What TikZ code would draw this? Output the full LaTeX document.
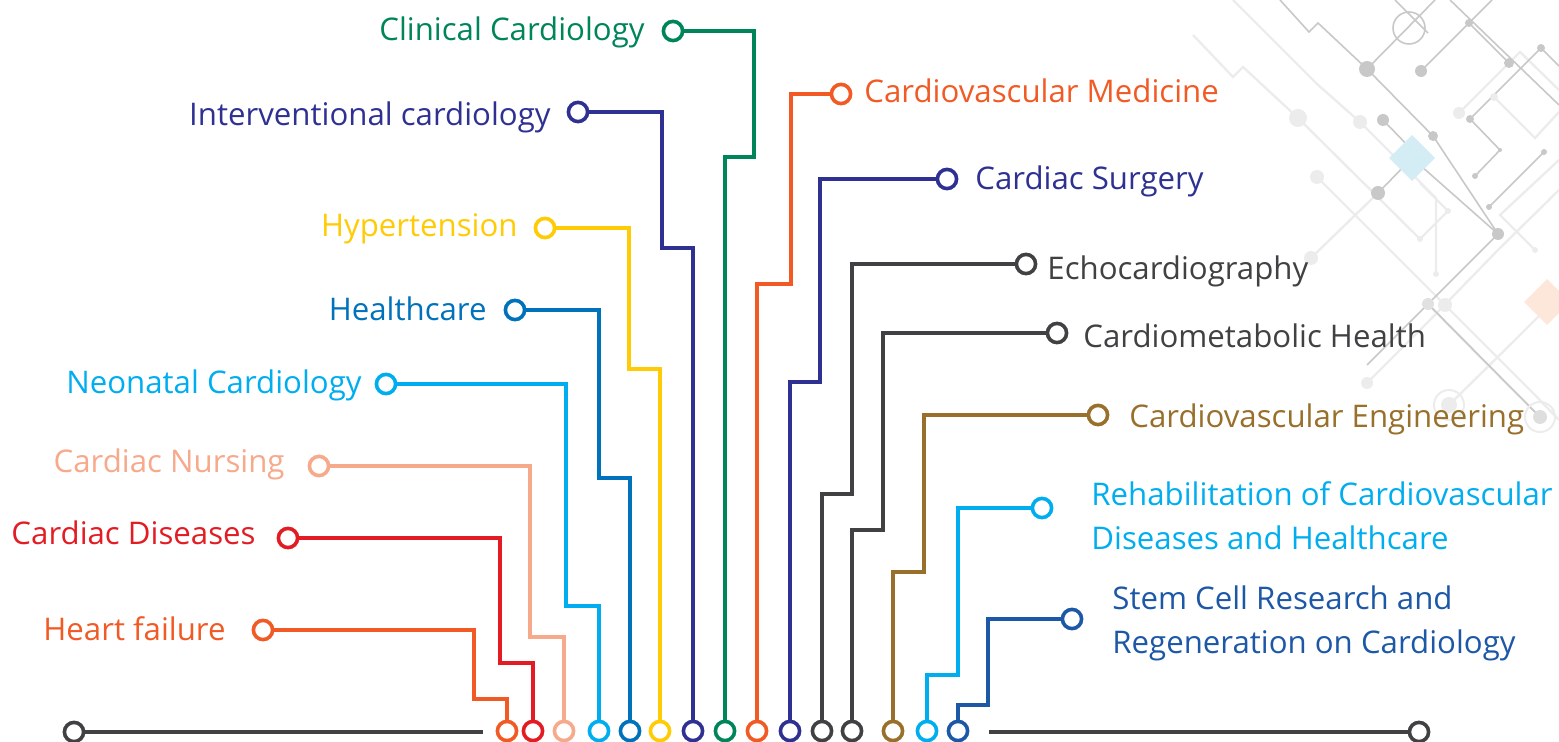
\documentclass[tikz,border=0pt]{standalone}
\usepackage{fontspec}
\setmainfont{Open Sans}
\usetikzlibrary{calc}
\definecolor{cOrange}{HTML}{F15A24}
\definecolor{cRed}{HTML}{E31B23}
\definecolor{cSalmon}{HTML}{F7A98B}
\definecolor{cCyan}{HTML}{00AEEF}
\definecolor{cBlue}{HTML}{0072BC}
\definecolor{cYellow}{HTML}{FFCB05}
\definecolor{cIndigo}{HTML}{2E3192}
\definecolor{cGreen}{HTML}{00855A}
\definecolor{cGray}{HTML}{414042}
\definecolor{cBrown}{HTML}{98702B}
\definecolor{cStem}{HTML}{1D58A7}
\definecolor{bgMid}{HTML}{C8C8C8}
\definecolor{bgLight}{HTML}{ECECEC}
\definecolor{bgBlue}{HTML}{D4EDF5}
\definecolor{bgPeach}{HTML}{FCE7DA}
\tikzset{
  dot/.style={circle, draw=#1, fill=white, line width=1.8pt, minimum size=9.6pt, inner sep=0pt},
  wire/.style={draw=#1, line width=2pt},
  lblL/.style={text=#1, anchor=base east, inner sep=0pt, font=\fontsize{15.6}{22}\selectfont},
  lblR/.style={text=#1, anchor=base west, inner sep=0pt, font=\fontsize{15.6}{22}\selectfont, align=left},
  bgline/.style={draw=bgMid, line width=0.8pt},
  bglight/.style={draw=bgLight, line width=1.2pt},
}
\begin{document}
\begin{tikzpicture}[x=0.5pt, y=-0.5pt]
\useasboundingbox (0,0) rectangle (1559,742);
% ---------- background decoration ----------
\begin{scope}
\clip (0,0) rectangle (1559,742);
\draw[bglight] (1193,35) -- (1233,77) -- (1243,67) -- (1298,118) -- (1420,239);
\draw[bglight] (1233,0) -- (1317,84) -- (1360,122) -- (1436,198) -- (1436,274);
\draw[bglight] (1317,177) -- (1445,305) -- (1535,395) -- (1559,420);
\draw[bglight] (1311,258) -- (1378,193);
\draw[bglight] (1367,383) -- (1428,322) -- (1498,250) -- (1559,190);
\draw[bglight] (1459,113) -- (1520,52) -- (1559,90);
\draw[bglight] (1494,97) -- (1535,138) -- (1559,112);
\draw[bglight] (1420,239) -- (1448,211) -- (1420,183);
\draw[bglight] (1535,250) -- (1500,215) -- (1559,160);
\draw[bglight] (1449,405) -- (1515,340) -- (1559,296);
\draw[bglight] (1540,417) -- (1480,357) -- (1428,304);
\draw[bgline] (1280,0) -- (1309,32) -- (1318,23) -- (1367,69) -- (1433,136) -- (1498,234);
\draw[bgline] (1367,69) -- (1435,0);
\draw[bgline] (1421,71) -- (1469,23) -- (1509,63);
\draw[bgline] (1469,23) -- (1492,0);
\draw[bgline] (1383,120) -- (1412,150);
\draw[bgline] (1378,193) -- (1412,158) -- (1498,234);
\draw[bgline] (1541,48) -- (1470,119) -- (1500,150) -- (1475,176);
\draw[bgline] (1541,48) -- (1559,66);
\draw[bgline] (1544,152) -- (1489,207);
\draw[bgline] (1498,234) -- (1428,304) -- (1367,365);
\draw[bgline] (1428,304) -- (1540,417);
\draw[bgline] (1395,0) -- (1428,33);
\draw[bgline] (1450,0) -- (1559,105);
% dots
\fill[bgLight] (1298,118) circle (9);
\fill[bgLight] (1360,122) circle (7);
\fill[bgLight] (1317,177) circle (7);
\fill[bgLight] (1459,113) circle (6);
\fill[bgLight] (1494,97) circle (4);
\fill[bgLight] (1420,239) circle (3);
\fill[bgLight] (1436,274) circle (3);
\fill[bgLight] (1448,211) circle (3);
\fill[bgLight] (1535,250) circle (3);
\fill[bgLight] (1445,305) circle (7);
\fill[bgLight] (1311,258) circle (7);
\fill[bgLight] (1367,383) circle (6);
\fill[bgMid] (1367,69) circle (8);
\fill[bgMid] (1421,71) circle (6);
\fill[bgMid] (1469,23) circle (4);
\fill[bgMid] (1509,63) circle (5);
\fill[bgMid] (1541,48) circle (4);
\fill[bgMid] (1433,136) circle (5);
\fill[bgMid] (1383,120) circle (6);
\fill[bgMid] (1470,119) circle (4);
\fill[bgMid] (1378,193) circle (7);
\fill[bgMid] (1498,234) circle (6);
\fill[bgMid] (1475,176) circle (3);
\fill[bgMid] (1489,207) circle (3);
\fill[bgMid] (1544,152) circle (3);
\fill[bgMid] (1500,150) circle (2);
\fill[bgLight!70!bgMid] (1428,304) circle (6);
\draw[bgMid, line width=0.8pt] (1409,28) circle (16);
\draw[bgLight, line width=1pt] (1449,405) circle (15);
\fill[bgLight] (1449,405) circle (8);
\draw[bgLight, line width=1pt] (1540,417) circle (15);
\fill[bgLight!60!bgMid] (1540,417) circle (7);
\fill[bgBlue] (1412,135) -- (1435,158) -- (1412,181) -- (1389,158) -- cycle;
\fill[bgPeach] (1547,279) -- (1570,302) -- (1547,325) -- (1524,302) -- cycle;
\end{scope}
% ---------- baseline ----------
\node[dot=cGray] (bl) at (74,732) {};
\node[dot=cGray] (br) at (1419,732) {};
\coordinate (blend) at (483,732);
\coordinate (brstart) at (989,732);
\draw[wire=cGray] (bl) -- (blend);
\draw[wire=cGray] (brstart) -- (br);
% ---------- bottom terminals ----------
\node[dot=cOrange] (b1) at (507,731) {};
\node[dot=cRed] (b2) at (533,731) {};
\node[dot=cSalmon] (b3) at (564,731) {};
\node[dot=cCyan] (b4) at (599,731) {};
\node[dot=cBlue] (b5) at (630,731) {};
\node[dot=cYellow] (b6) at (660,731) {};
\node[dot=cIndigo] (b7) at (693,731) {};
\node[dot=cGreen] (b8) at (725,731) {};
\node[dot=cOrange] (b9) at (757,731) {};
\node[dot=cIndigo] (b10) at (790,731) {};
\node[dot=cGray] (b11) at (822,731) {};
\node[dot=cGray] (b12) at (852,731) {};
\node[dot=cBrown] (b13) at (893,731) {};
\node[dot=cCyan] (b14) at (927,731) {};
\node[dot=cStem] (b15) at (958,731) {};
% ---------- top terminals ----------
\node[dot=cOrange] (c1) at (263,630) {};
\node[dot=cRed] (c2) at (288,538) {};
\node[dot=cSalmon] (c3) at (319,466) {};
\node[dot=cCyan] (c4) at (386,384) {};
\node[dot=cBlue] (c5) at (515,310) {};
\node[dot=cYellow] (c6) at (545,228) {};
\node[dot=cIndigo] (c7) at (578,112) {};
\node[dot=cGreen] (c8) at (673,31) {};
\node[dot=cOrange] (c9) at (841,94) {};
\node[dot=cIndigo] (c10) at (947,179) {};
\node[dot=cGray] (c11) at (1026,264) {};
\node[dot=cGray] (c12) at (1057,333) {};
\node[dot=cBrown] (c13) at (1098,415) {};
\node[dot=cCyan] (c14) at (1042,508) {};
\node[dot=cStem] (c15) at (1072,619) {};
% ---------- connectors ----------
\draw[wire=cOrange] (c1) -| (474,699) -| (b1);
\draw[wire=cRed] (c2) -| (500,663) -| (b2);
\draw[wire=cSalmon] (c3) -| (530,637) -| (b3);
\draw[wire=cCyan] (c4) -| (566,606) -| (b4);
\draw[wire=cBlue] (c5) -| (599,478) -| (b5);
\draw[wire=cYellow] (c6) -| (629,369) -| (b6);
\draw[wire=cIndigo] (c7) -| (662,248) -| (b7);
\draw[wire=cGreen] (c8) -| (754,157) -| (b8);
\draw[wire=cOrange] (c9) -| (791,284) -| (b9);
\draw[wire=cIndigo] (c10) -| (820,382) -| (b10);
\draw[wire=cGray] (c11) -| (852,494) -| (b11);
\draw[wire=cGray] (c12) -| (883,530) -| (b12);
\draw[wire=cBrown] (c13) -| (924,572) -| (b13);
\draw[wire=cCyan] (c14) -| (958,675) -| (b14);
\draw[wire=cStem] (c15) -| (988,705) -| (b15);
% ---------- labels ----------
\node[lblL=cOrange] (l1) at (226,641) {Heart failure};
\node[lblL=cRed] (l2) at (256,545) {Cardiac Diseases};
\node[lblL=cSalmon] (l3) at (285,473) {Cardiac Nursing};
\node[lblL=cCyan] (l4) at (362,394) {Neonatal Cardiology};
\node[lblL=cBlue] (l5) at (487,321) {Healthcare};
\node[lblL=cYellow] (l6) at (518,237) {Hypertension};
\node[lblL=cIndigo] (l7) at (551,126) {Interventional cardiology};
\node[lblL=cGreen] (l8) at (645,41) {Clinical Cardiology};
\node[lblR=cOrange] (l9) at (864,103) {Cardiovascular Medicine};
\node[lblR=cIndigo] (l10) at (975,190) {Cardiac Surgery};
\node[lblR=cGray] (l11) at (1047,280) {Echocardiography};
\node[lblR=cGray] (l12) at (1083,348) {Cardiometabolic Health};
\node[lblR=cBrown] (l13) at (1129,428) {Cardiovascular Engineering};
\node[lblR=cCyan] (l14) at (1091,550) {Rehabilitation of Cardiovascular\\Diseases and Healthcare};
\node[lblR=cStem] (l15) at (1112,654) {Stem Cell Research and\\Regeneration on Cardiology};
\end{tikzpicture}
\end{document}
